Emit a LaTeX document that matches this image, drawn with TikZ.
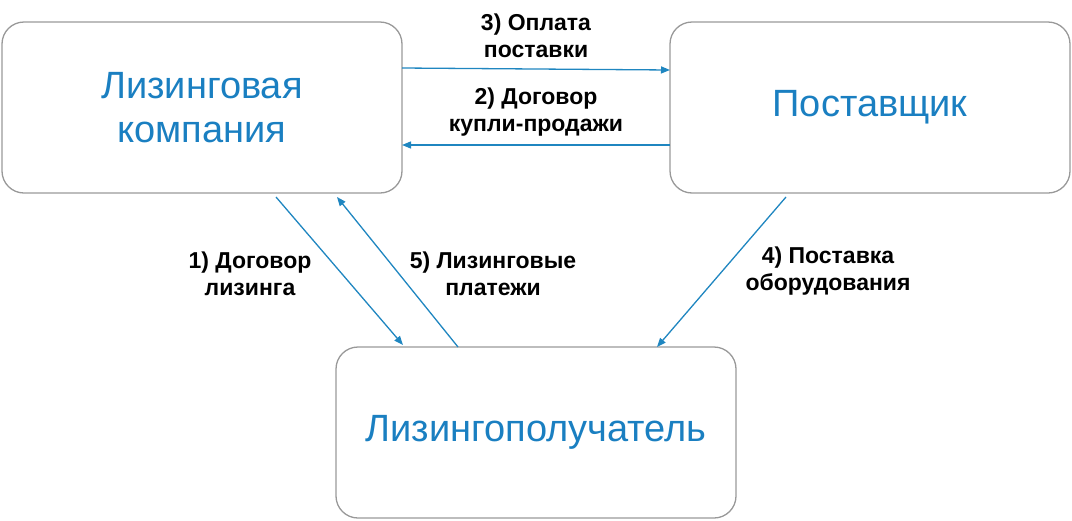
\documentclass[tikz,border=0pt]{standalone}
\usepackage{fontspec}
\setmainfont{Liberation Sans}
\usetikzlibrary{arrows.meta}
\definecolor{tblue}{HTML}{1A7FC1}
\definecolor{abl}{HTML}{1F86C0}
\begin{document}
\begin{tikzpicture}[x=1pt,y=-1pt,
  box/.style={draw=gray!80,line width=1.3pt,rounded corners=22pt,minimum width=400pt,minimum height=171pt,font=\fontsize{38}{44}\selectfont,text=tblue,align=center,inner sep=0pt},
  lbl/.style={font=\fontsize{23}{27}\selectfont\bfseries,align=center,inner sep=0pt},
  arr/.style={draw=abl,line width=1.3pt,-{Triangle[length=9pt,width=7pt]}}]
\useasboundingbox (0,0) rectangle (1072,520);
\node[box] (lc) at (202,107.5) {Лизинговая\\компания};
\node[box] (sp) at (870,107.5) {Поставщик};
\node[box] (ls) at (536,432.5) {Лизингополучатель};
\coordinate (a3s) at (402,68); \coordinate (a3e) at (670,70);
\coordinate (a2s) at (670,145); \coordinate (a2e) at (402,145);
\coordinate (a1s) at (276,197); \coordinate (a1e) at (403,345);
\coordinate (a5s) at (458,347); \coordinate (a5e) at (337,197);
\coordinate (a4s) at (786,197); \coordinate (a4e) at (657,347);
\draw[arr] (a3s) -- (a3e);
\draw[arr] (a2s) -- (a2e);
\draw[arr] (a1s) -- (a1e);
\draw[arr] (a5s) -- (a5e);
\draw[arr] (a4s) -- (a4e);
\node[lbl] (t3) at (536,36) {3) Оплата\\поставки};
\node[lbl] (t2) at (536,112) {2) Договор\\купли-продажи};
\node[lbl] (t1) at (250,274) {1) Договор\\лизинга};
\node[lbl] (t5) at (493,274) {5) Лизинговые\\платежи};
\node[lbl] (t4) at (828,271) {4) Поставка\\оборудования};
\end{tikzpicture}
\end{document}
